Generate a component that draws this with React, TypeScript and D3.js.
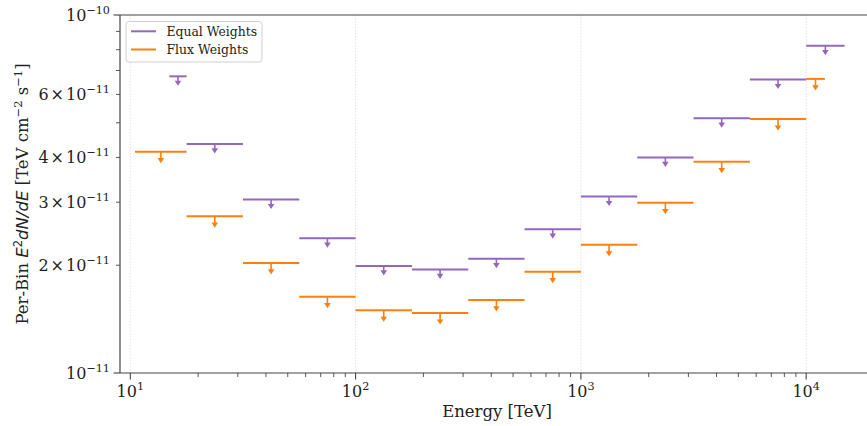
import React from 'react';
import * as d3 from 'd3';

const WIDTH = 867;
const HEIGHT = 426;
const PLOT = { left: 120, right: 874, top: 15, bottom: 373 };

// quarter-decade bin edges shared by both weightings
const sharedEdges = [17.78, 31.62, 56.23, 100, 177.8, 316.2, 562.3, 1000, 1778, 3162, 5623, 10000];
const equalEdges = [14.9, ...sharedEdges, 14800];
const fluxEdges = [10.5, ...sharedEdges, 12100];

const equalUL = [6.74e-11, 4.36e-11, 3.05e-11, 2.38e-11, 1.99e-11, 1.945e-11, 2.085e-11, 2.52e-11, 3.11e-11, 4.0e-11, 5.15e-11, 6.6e-11, 8.21e-11];
const fluxUL = [4.15e-11, 2.74e-11, 2.03e-11, 1.633e-11, 1.496e-11, 1.47e-11, 1.6e-11, 1.918e-11, 2.28e-11, 2.99e-11, 3.89e-11, 5.12e-11, 6.63e-11];

const xMajor = [10, 100, 1000, 10000];
const xExp = ['1', '2', '3', '4'];
const yMajor = [1e-11, 1e-10];
const yMajorExp = ['−11', '−10'];
const yLabeledMinor = [2e-11, 3e-11, 4e-11, 6e-11];
const yLabeledMant = ['2', '3', '4', '6'];

const series = [
  { name: 'Equal Weights', edges: equalEdges, ul: equalUL, color: '#9467bd', arrow: 9.5 },
  { name: 'Flux Weights', edges: fluxEdges, ul: fluxUL, color: '#ff7f0e', arrow: 11.5 },
];

const SERIF = 'DejaVu Serif';
const SANS = 'DejaVu Sans';

export default function App() {
  const x = d3.scaleLog().domain([9, 2e4]).range([PLOT.left, PLOT.right]);
  const y = d3.scaleLog().domain([1e-11, 1e-10]).range([PLOT.bottom, PLOT.top]);

  const xMinor: number[] = [];
  [10, 100, 1000, 10000].forEach((d) => {
    for (let k = 2; k <= 9; k++) {
      const v = d * k;
      if (v <= 2e4) xMinor.push(v);
    }
  });
  const yMinor = [2, 3, 4, 5, 6, 7, 8, 9].map((k) => k * 1e-11);

  return (
    <svg width={WIDTH} height={HEIGHT} style={{ position: 'absolute', left: 0, top: 0 }}>
      <rect width={WIDTH} height={HEIGHT} fill="#fff" />

      {/* grid */}
      {xMajor.map((d) => (
        <line key={'g' + d} x1={x(d)} x2={x(d)} y1={PLOT.top} y2={PLOT.bottom}
          stroke="#d9d9d9" strokeWidth={0.8} strokeDasharray="1.5,1.5" />
      ))}

      {/* upper-limit bars */}
      {series.map((s) => (
        <g key={s.name}>
          {s.ul.map((v, i) => {
            const x0 = x(s.edges[i]);
            const x1 = x(s.edges[i + 1]);
            const xc = (x0 + x1) / 2;
            const yv = y(v);
            const tip = yv + s.arrow;
            return (
              <g key={i}>
                <line x1={x0} x2={x1} y1={yv} y2={yv} stroke={s.color} strokeWidth={2} />
                <line x1={xc} x2={xc} y1={yv} y2={tip - 3} stroke={s.color} strokeWidth={1.6} />
                <path d={`M${xc - 3.3},${tip - 5.2}L${xc + 3.3},${tip - 5.2}L${xc},${tip}Z`} fill={s.color} />
              </g>
            );
          })}
        </g>
      ))}

      {/* spines */}
      <line x1={PLOT.left} x2={PLOT.right} y1={PLOT.top} y2={PLOT.top} stroke="#444" strokeWidth={1.2} />
      <line x1={PLOT.left} x2={PLOT.right} y1={PLOT.bottom} y2={PLOT.bottom} stroke="#444" strokeWidth={1.2} />
      <line x1={PLOT.left} x2={PLOT.left} y1={PLOT.top} y2={PLOT.bottom} stroke="#444" strokeWidth={1.2} />

      {/* x ticks */}
      {xMinor.map((d) => (
        <line key={'xm' + d} x1={x(d)} x2={x(d)} y1={PLOT.bottom} y2={PLOT.bottom + 4} stroke="#444" strokeWidth={0.9} />
      ))}
      {xMajor.map((d, i) => (
        <g key={'xM' + d}>
          <line x1={x(d)} x2={x(d)} y1={PLOT.bottom} y2={PLOT.bottom + 6.5} stroke="#444" strokeWidth={1.1} />
          <text x={x(d)} y={PLOT.bottom + 24} textAnchor="middle" fontFamily={SERIF} fontSize={16} fill="#222">
            10<tspan dy={-7} fontSize={11.2}>{xExp[i]}</tspan>
          </text>
        </g>
      ))}

      {/* y ticks */}
      {yMinor.map((d) => (
        <line key={'ym' + d} x1={PLOT.left - 4} x2={PLOT.left} y1={y(d)} y2={y(d)} stroke="#444" strokeWidth={0.9} />
      ))}
      {yMajor.map((d, i) => (
        <g key={'yM' + d}>
          <line x1={PLOT.left - 6.5} x2={PLOT.left} y1={y(d)} y2={y(d)} stroke="#444" strokeWidth={1.1} />
          <text x={PLOT.left - 10} y={y(d) + 6} textAnchor="end" fontFamily={SERIF} fontSize={16} fill="#222">
            10<tspan dy={-7} fontSize={11.2}>{yMajorExp[i]}</tspan>
          </text>
        </g>
      ))}
      {yLabeledMinor.map((d, i) => (
        <text key={'yl' + d} x={PLOT.left - 10} y={y(d) + 6} textAnchor="end" fontFamily={SERIF} fontSize={16} fill="#222">
          {yLabeledMant[i]}
          <tspan dx={2}>×</tspan>
          <tspan dx={2}>10</tspan>
          <tspan dy={-7} fontSize={11.2}>−11</tspan>
        </text>
      ))}

      {/* axis labels */}
      <text x={(PLOT.left + PLOT.right) / 2} y={417} textAnchor="middle" fontFamily={SERIF} fontSize={16.5} fill="#222">
        Energy [TeV]
      </text>
      <text transform={`translate(28,${(PLOT.top + PLOT.bottom) / 2}) rotate(-90)`} textAnchor="middle"
        fontFamily={SERIF} fontSize={16.5} fill="#222">
        Per-Bin <tspan fontFamily={SANS} fontStyle="italic">E</tspan>
        <tspan dy={-6} fontSize={11.5} fontFamily={SANS}>2</tspan>
        <tspan dy={6} fontFamily={SANS} fontStyle="italic">dN</tspan>
        <tspan fontFamily={SANS} fontStyle="italic">/</tspan>
        <tspan fontFamily={SANS} fontStyle="italic">dE</tspan>
        <tspan> [TeV cm</tspan>
        <tspan dy={-6} fontSize={11.5}>−2</tspan>
        <tspan dy={6}> s</tspan>
        <tspan dy={-6} fontSize={11.5}>−1</tspan>
        <tspan dy={6}>]</tspan>
      </text>

      {/* legend */}
      <rect x={126} y={21.5} width={136} height={40.5} rx={3} fill="#fff" fillOpacity={0.8} stroke="#d0d0d0" strokeWidth={1} />
      {series.map((s, i) => (
        <g key={'lg' + s.name}>
          <line x1={131} x2={156} y1={31.3 + i * 18.2} y2={31.3 + i * 18.2} stroke={s.color} strokeWidth={2} />
          <text x={166.5} y={31.3 + i * 18.2 + 4.6} fontFamily={SERIF} fontSize={12.4} fill="#222">{s.name}</text>
        </g>
      ))}
    </svg>
  );
}
